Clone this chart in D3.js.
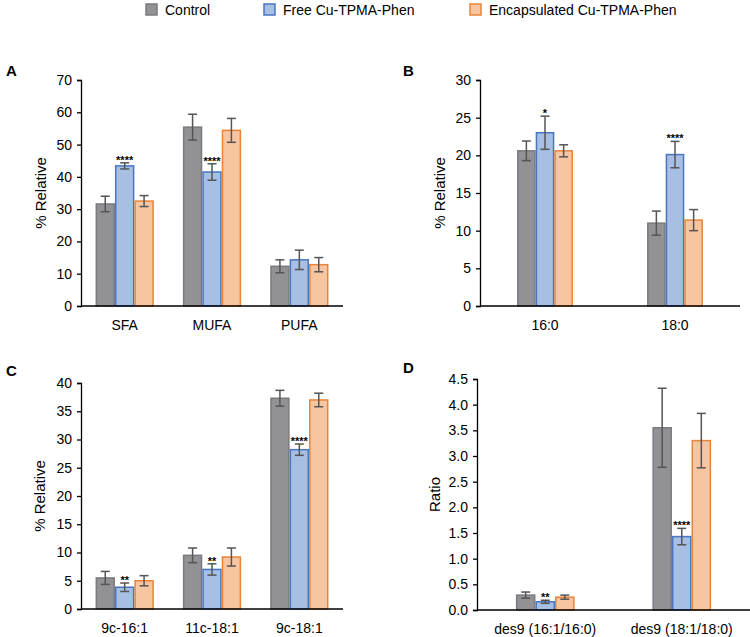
<!DOCTYPE html>
<html>
<head>
<meta charset="utf-8">
<script src="https://cdn.jsdelivr.net/npm/d3@7/dist/d3.min.js"></script>
<style>
  html, body { margin: 0; padding: 0; background: #fff; }
  svg { display: block; font-family: "Liberation Sans", Arial, sans-serif; }
</style>
</head>
<body>
<svg id="chart" width="750" height="637"></svg>
<script>
// ---------- DATA ----------
const seriesNames = ["Control", "Free Cu-TPMA-Phen", "Encapsulated Cu-TPMA-Phen"];

// Panel A
const catsA = ["SFA", "MUFA", "PUFA"];
const controlA = [31.6, 55.4, 12.3];
const controlErrA = [2.4, 4.0, 2.0];
const freeA = [43.4, 41.5, 14.3];
const freeErrA = [0.95, 2.55, 3.0];
const encA = [32.5, 54.4, 12.8];
const encErrA = [1.7, 3.7, 2.2];
const starsA = ["****", "****", ""];
const ticksA = [0, 10, 20, 30, 40, 50, 60, 70];

// Panel B
const catsB = ["16:0", "18:0"];
const controlB = [20.6, 11.0];
const controlErrB = [1.3, 1.6];
const freeB = [23.0, 20.1];
const freeErrB = [2.2, 1.75];
const encB = [20.6, 11.4];
const encErrB = [0.8, 1.4];
const starsB = ["*", "****"];
const ticksB = [0, 5, 10, 15, 20, 25, 30];

// Panel C
const catsC = ["9c-16:1", "11c-18:1", "9c-18:1"];
const controlC = [5.5, 9.5, 37.3];
const controlErrC = [1.15, 1.3, 1.4];
const freeC = [3.85, 7.0, 28.2];
const freeErrC = [0.75, 1.0, 1.0];
const encC = [5.0, 9.2, 37.0];
const encErrC = [0.9, 1.6, 1.2];
const starsC = ["**", "**", "****"];
const ticksC = [0, 5, 10, 15, 20, 25, 30, 35, 40];

// Panel D
const catsD = ["des9 (16:1/16:0)", "des9 (18:1/18:0)"];
const controlD = [0.29, 3.55];
const controlErrD = [0.06, 0.77];
const freeD = [0.16, 1.43];
const freeErrD = [0.03, 0.16];
const encD = [0.25, 3.30];
const encErrD = [0.04, 0.53];
const starsD = ["**", "****"];
const ticksD = [0, 0.5, 1.0, 1.5, 2.0, 2.5, 3.0, 3.5, 4.0, 4.5];

// ---------- STYLE ----------
const fills = ["#919196", "#a6bfe3", "#f8c5a1"];
const strokes = ["#7b7b7f", "#4a76c0", "#e8843a"];
const errColor = "#555555";

const svg = d3.select("#chart");

function panel(opt) {
  const g = svg.append("g");
  const y = d3.scaleLinear().domain([0, opt.ymax]).range([opt.y0, opt.y1]);
  const x0 = d3.scaleBand().domain(opt.cats).range([opt.xa, opt.xb]).paddingInner(opt.pad).paddingOuter(opt.pad / 2);
  const x1 = d3.scaleBand().domain([0, 1, 2]).range([0, x0.bandwidth()]);

  // y axis
  const yAxis = d3.axisLeft(y).tickValues(opt.ticks).tickSize(4).tickPadding(5)
    .tickFormat(opt.fmt);
  const ya = g.append("g").attr("transform", `translate(${opt.xAxisLine},0)`).call(yAxis);
  ya.select(".domain").attr("stroke", "#000").attr("stroke-width", 1.3);
  ya.selectAll(".tick line").attr("stroke", "#000").attr("stroke-width", 1.3);
  ya.selectAll(".tick text").attr("font-size", 14).attr("fill", "#000")
    .attr("font-family", "Liberation Sans, Arial, sans-serif");

  // bars
  const series = [
    { v: opt.control, e: opt.controlErr },
    { v: opt.free, e: opt.freeErr },
    { v: opt.enc, e: opt.encErr }
  ];
  series.forEach((s, si) => {
    const sg = g.append("g");
    sg.selectAll("rect").data(opt.cats).join("rect")
      .attr("x", (c) => x0(c) + x1(si) + 0.75)
      .attr("width", x1.bandwidth() - 1.5)
      .attr("y", (c, i) => y(s.v[i]))
      .attr("height", (c, i) => y(0) - y(s.v[i]))
      .attr("fill", fills[si]).attr("stroke", strokes[si]).attr("stroke-width", 1.5);
    // error bars
    opt.cats.forEach((c, i) => {
      const cx = x0(c) + x1(si) + x1.bandwidth() / 2;
      const top = y(s.v[i] + s.e[i]);
      const bot = y(s.v[i] - s.e[i]);
      sg.append("line").attr("x1", cx).attr("x2", cx).attr("y1", top).attr("y2", bot)
        .attr("stroke", errColor).attr("stroke-width", 1.5);
      [top, bot].forEach((yy) => {
        sg.append("line").attr("x1", cx - 4.5).attr("x2", cx + 4.5).attr("y1", yy).attr("y2", yy)
          .attr("stroke", errColor).attr("stroke-width", 1.5);
      });
      if (si === 1 && opt.stars[i]) {
        sg.append("text").attr("x", cx).attr("y", top + 1)
          .attr("text-anchor", "middle").attr("font-size", 11).attr("font-weight", "bold")
          .attr("fill", "#000").text(opt.stars[i]);
      }
    });
  });

  // x axis line
  g.append("line").attr("x1", opt.xAxisLine).attr("x2", opt.xEnd)
    .attr("y1", y(0)).attr("y2", y(0)).attr("stroke", "#000").attr("stroke-width", 1.3);
  // x labels
  g.selectAll(".xl").data(opt.cats).join("text")
    .attr("x", (c) => x0(c) + x0.bandwidth() / 2)
    .attr("y", y(0) + 24)
    .attr("text-anchor", "middle").attr("font-size", 14).attr("fill", "#000")
    .text((c) => c);

  // y title
  g.append("text")
    .attr("transform", `translate(${opt.titleX},${(opt.y0 + opt.y1) / 2}) rotate(-90)`)
    .attr("text-anchor", "middle").attr("dominant-baseline", "middle")
    .attr("font-size", 15).attr("fill", "#000").text(opt.title);

  // panel letter
  g.append("text").attr("x", opt.letterX).attr("y", opt.letterY)
    .attr("font-size", 15).attr("font-weight", "bold").attr("fill", "#000").text(opt.letter);
}

const fmtInt = d3.format("d");
const fmt1 = d3.format(".1f");

panel({ cats: catsA, control: controlA, controlErr: controlErrA, free: freeA, freeErr: freeErrA,
  enc: encA, encErr: encErrA, stars: starsA, ticks: ticksA, ymax: 70, fmt: fmtInt,
  y0: 306, y1: 80, xa: 81, xb: 343, xAxisLine: 81, xEnd: 343, pad: 0.333,
  title: "% Relative", titleX: 42, letter: "A", letterX: 6, letterY: 76 });

panel({ cats: catsB, control: controlB, controlErr: controlErrB, free: freeB, freeErr: freeErrB,
  enc: encB, encErr: encErrB, stars: starsB, ticks: ticksB, ymax: 30, fmt: fmtInt,
  y0: 306, y1: 80, xa: 480, xb: 740, xAxisLine: 480, xEnd: 740, pad: 0.57,
  title: "% Relative", titleX: 441, letter: "B", letterX: 403, letterY: 76 });

panel({ cats: catsC, control: controlC, controlErr: controlErrC, free: freeC, freeErr: freeErrC,
  enc: encC, encErr: encErrC, stars: starsC, ticks: ticksC, ymax: 40, fmt: fmtInt,
  y0: 609, y1: 383, xa: 81, xb: 343, xAxisLine: 81, xEnd: 343, pad: 0.333,
  title: "% Relative", titleX: 41, letter: "C", letterX: 6, letterY: 376 });

panel({ cats: catsD, control: controlD, controlErr: controlErrD, free: freeD, freeErr: freeErrD,
  enc: encD, encErr: encErrD, stars: starsD, ticks: ticksD, ymax: 4.5, fmt: fmt1,
  y0: 610, y1: 379, xa: 477, xb: 750, xAxisLine: 477, xEnd: 750, pad: 0.57,
  title: "Ratio", titleX: 436, letter: "D", letterX: 403, letterY: 373 });

// ---------- LEGEND ----------
const legendX = [146, 264, 470];
const leg = svg.append("g");
seriesNames.forEach((n, i) => {
  leg.append("rect").attr("x", legendX[i]).attr("y", 4).attr("width", 11).attr("height", 11)
    .attr("fill", fills[i]).attr("stroke", strokes[i]).attr("stroke-width", 1.5);
  leg.append("text").attr("x", legendX[i] + 19).attr("y", 15)
    .attr("font-size", 14).attr("fill", "#000").text(n);
});
</script>
</body>
</html>
